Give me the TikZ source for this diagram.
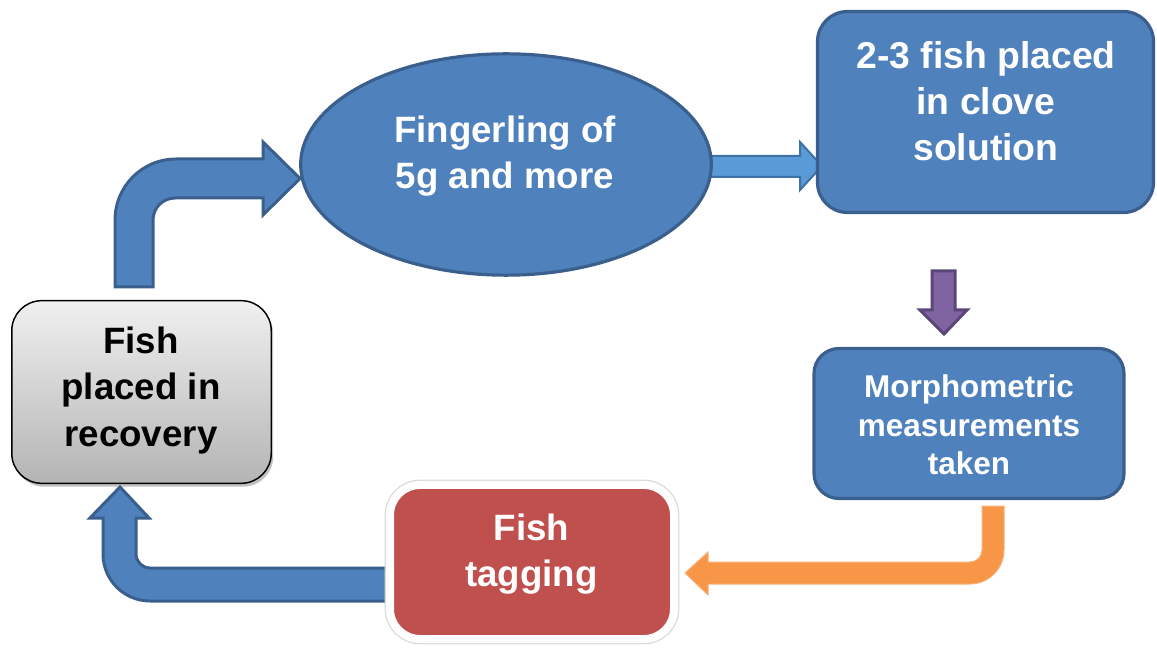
\documentclass[tikz,border=0pt]{standalone}
\usepackage{fontspec}
\setmainfont{Liberation Sans}
\usetikzlibrary{shapes.geometric,shadows}

\definecolor{bluefill}{HTML}{4F81BD}
\definecolor{bluedark}{HTML}{3A5F8D}
\definecolor{lightarrow}{HTML}{5A9AD6}
\definecolor{lightarrowdark}{HTML}{3E72A6}
\definecolor{purplefill}{HTML}{8064A2}
\definecolor{purpledark}{HTML}{5C4679}
\definecolor{orangefill}{HTML}{F79646}
\definecolor{orangeedge}{HTML}{F9B27C}
\definecolor{redfill}{HTML}{C0504D}
\definecolor{graytop}{HTML}{F0F0F0}
\definecolor{graybottom}{HTML}{B4B4B4}

\tikzset{
  bluebox/.style={rectangle, fill=bluefill, draw=bluedark, line width=2.4pt, inner sep=0pt},
  bigtext/.style={align=center, font=\fontsize{27.5}{35}\selectfont\bfseries},
  smalltext/.style={align=center, font=\fontsize{23.6}{29}\selectfont\bfseries},
  bluearrow/.style={fill=bluefill, draw=bluedark, line width=2.25pt, line join=miter},
  softshadow/.style={drop shadow={shadow xshift=1.5pt, shadow yshift=-2.5pt, opacity=0.35, fill=black!70}}
}

\begin{document}
\begin{tikzpicture}[x=0.75pt, y=-0.75pt]
\useasboundingbox (0,0) rectangle (1157,648);

% ---- block arrows (drawn first, boxes sit on top of their ends) ----
% recovery -> fingerling
\path[bluearrow] (115,287) -- (115,220) arc[start angle=180, end angle=270, radius=61]
  -- (263,159) -- (263,142) -- (300,178.5) -- (263,215) -- (263,198) -- (175,198)
  arc[start angle=270, end angle=180, radius=22] -- (153,287) -- cycle;
% fingerling -> clove solution
\path[fill=lightarrow, draw=lightarrowdark, line width=1.5pt]
  (700,156) -- (800,156) -- (800,142) -- (822,166) -- (800,190) -- (800,177) -- (700,177) -- cycle;
% clove solution -> measurements
\path[fill=purplefill, draw=purpledark, line width=2.25pt]
  (932,271) -- (955,271) -- (955,310) -- (967,310) -- (944,334) -- (920,310) -- (932,310) -- cycle;
% measurements -> tagging
\path[fill=orangefill, draw=orangeedge, line width=0.75pt]
  (982,506) -- (1004,506) -- (1004,550) arc[start angle=0, end angle=90, radius=34]
  -- (708,584) -- (708,595) -- (685,573) -- (708,552) -- (708,562) -- (970,562)
  arc[start angle=90, end angle=0, radius=12] -- cycle;
% tagging -> recovery
\path[bluearrow] (395,568) -- (150,568) arc[start angle=90, end angle=180, radius=14]
  -- (136,518) -- (149,518) -- (120,487) -- (90,518) -- (103,518) -- (103,554)
  arc[start angle=180, end angle=90, radius=47] -- (395,601) -- cycle;

% ---- process boxes ----
\node[ellipse, fill=bluefill, draw=bluedark, line width=2.4pt, inner sep=0pt,
      minimum width=308pt, minimum height=166pt] (fing) at (506,164.5) {};
\node[bigtext, text=white] (fingtext) at (505,156) {Fingerling of\\5g and more};

\node[bluebox, rounded corners=22.5pt, minimum width=252pt, minimum height=150.75pt]
  (clove) at (985.5,112) {};
\node[bigtext, text=white, font=\fontsize{28}{34.5}\selectfont\bfseries]
  (clovetext) at (986,101.5) {2-3 fish placed\\in clove\\solution};

\node[bluebox, rounded corners=18.75pt, minimum width=232.5pt, minimum height=112.5pt]
  (morph) at (969,423.5) {};
\node[smalltext, text=white] (morphtext) at (969,425) {Morphometric\\measurements\\taken};

% tagging box: white rim with a faint grey glow round it
\node[rectangle, rounded corners=22.5pt, draw=white, line width=6pt, fill=redfill,
      minimum width=213pt, minimum height=115.5pt, inner sep=0pt,
      drop shadow={shadow xshift=1pt, shadow yshift=-2pt, opacity=0.25, fill=black!60},
      preaction={draw=black!14, line width=8pt}]
  (tag) at (532,562) {};
\node[bigtext, text=white] (tagtext) at (531.5,554) {Fish\\tagging};

\node[rectangle, rounded corners=22.5pt, draw=black, line width=1.1pt,
      top color=graytop, bottom color=graybottom, minimum width=194.6pt,
      minimum height=137pt, inner sep=0pt, softshadow]
  (recov) at (141.5,392) {};
\node[bigtext, text=black] (recovtext) at (141,390.5) {Fish\\placed in\\recovery};
\end{tikzpicture}
\end{document}
